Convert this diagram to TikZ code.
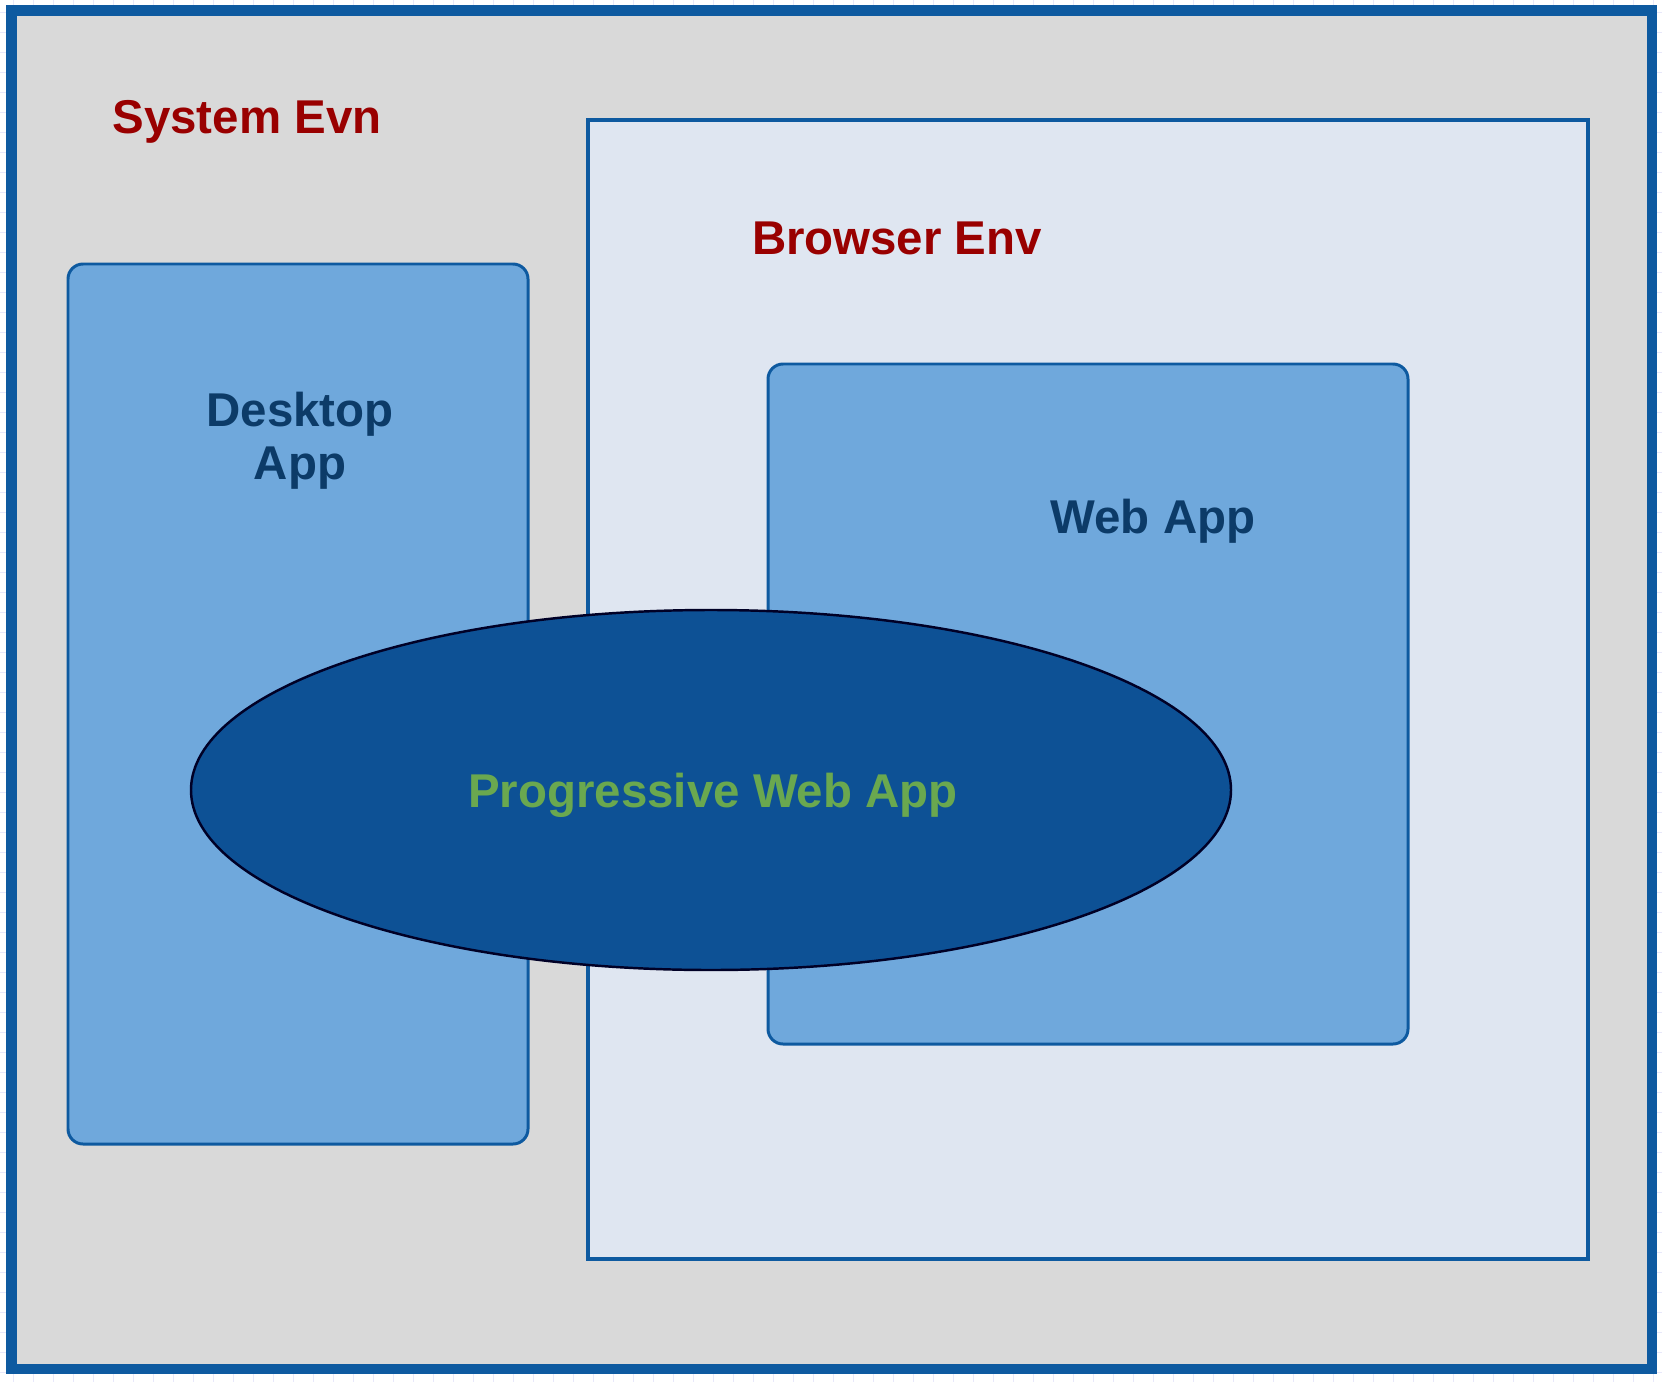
\documentclass[tikz,border=0pt]{standalone}
\usepackage{fontspec}
\setmainfont{Liberation Sans}
\usepackage{tikz}
\definecolor{envblue}{RGB}{14,90,160}
\definecolor{sysgray}{RGB}{217,217,217}
\definecolor{browserbg}{RGB}{223,230,241}
\definecolor{appblue}{RGB}{111,168,220}
\definecolor{pwablue}{RGB}{13,81,149}
\definecolor{envred}{RGB}{153,0,0}
\definecolor{pwagreen}{RGB}{106,168,79}
\definecolor{appnavy}{RGB}{12,59,104}
\definecolor{gridln}{RGB}{232,232,250}
\tikzset{
  envlabel/.style={text=envred,font=\fontsize{27}{30}\selectfont\bfseries},
  applabel/.style={text=appnavy,align=center,font=\fontsize{27}{30}\selectfont\bfseries},
  appbox/.style={draw=envblue,fill=appblue,line width=1.7pt,rounded corners=0.3cm}
}
\begin{document}
\begin{tikzpicture}[x=0.02cm,y=-0.02cm]
        \useasboundingbox (0,0) rectangle (1662,1382);
        \fill[white] (0,0) rectangle (1662,1382);
        \foreach \i in {13,33,...,1653} \draw[very thin,gridln] (\i,0)--(\i,1382);
        \foreach \j in {12,32,...,1372} \draw[very thin,gridln] (0,\j)--(1662,\j);
        \draw[line width=6.2pt,draw=envblue,fill=sysgray] (11.5,10.5) rectangle (1652,1369);
        \draw[line width=2.3pt,draw=envblue,fill=browserbg] (588,120) rectangle (1588,1259);
        \draw[appbox] (68,264) rectangle (528,1144);
        \draw[appbox] (768,364) rectangle (1408,1044);
        \draw[line width=1.4pt,draw=black!85!blue,fill=pwablue] (711,790) ellipse [x radius=520,y radius=180];
        \node[envlabel] (sysenv) at (247,122) {System Evn};
        \node[envlabel] (browserenv) at (897,238) {Browser Env};
        \node[applabel] (desktop) at (300,441) {Desktop\\App};
        \node[applabel] (webapp) at (1153,521) {Web App};
        \node[envlabel,text=pwagreen] (pwa) at (713,795) {Progressive Web App};
      \end{tikzpicture}
\end{document}
